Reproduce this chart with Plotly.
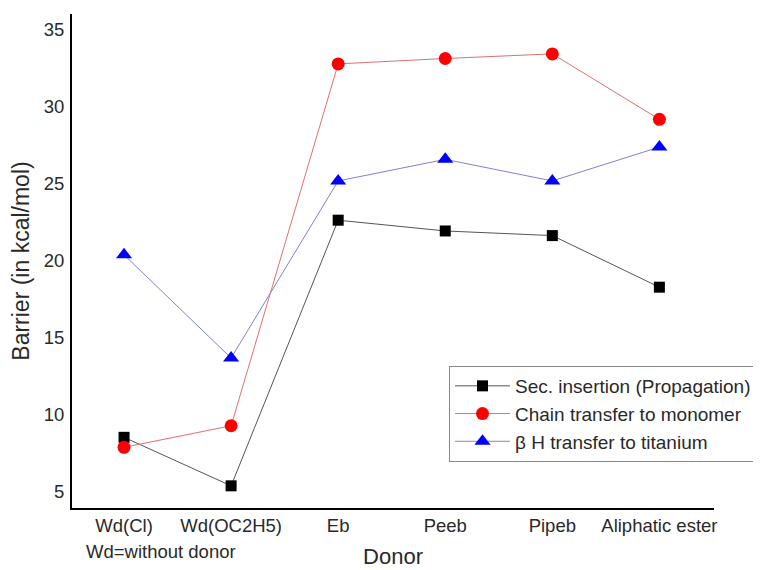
import plotly.graph_objects as go

categories = ["Wd(Cl)", "Wd(OC2H5)", "Eb", "Peeb", "Pipeb", "Aliphatic ester"]
sec_insertion = [8.55, 5.4, 22.65, 21.95, 21.65, 18.3]
chain_transfer = [7.9, 9.3, 32.8, 33.15, 33.45, 29.2]
beta_h_transfer = [20.4, 13.7, 25.2, 26.6, 25.2, 27.4]
y_ticks = [5, 10, 15, 20, 25, 30, 35]

xs = list(range(len(categories)))
font_family = "Liberation Sans, Arial, sans-serif"
text_color = "#2a2a2a"

fig = go.Figure()
fig.add_trace(go.Scatter(
    x=xs, y=sec_insertion, mode="lines+markers", name="Sec. insertion (Propagation)",
    line=dict(color="#555555", width=1),
    marker=dict(symbol="square", size=11, color="black"),
))
fig.add_trace(go.Scatter(
    x=xs, y=chain_transfer, mode="lines+markers", name="Chain transfer to monomer",
    line=dict(color="#e07070", width=1),
    marker=dict(symbol="circle", size=13, color="#ff0000"),
))
fig.add_trace(go.Scatter(
    x=xs, y=beta_h_transfer, mode="lines+markers", name="β H transfer to titanium",
    line=dict(color="#8080d8", width=1),
    marker=dict(symbol="triangle-up", size=14, color="#0000ff"),
))

# page body has an 8px default margin, compensated here
fig.update_layout(
    width=761, height=570,
    margin=dict(l=64, r=55, t=6, b=70),
    paper_bgcolor="white", plot_bgcolor="white",
    font=dict(family=font_family, size=18, color=text_color),
    showlegend=True,
    legend=dict(
        x=(449 - 72) / 642, y=(508 - 366) / 494, xanchor="left", yanchor="top",
        bordercolor="#888888", borderwidth=1, bgcolor="white",
        font=dict(size=19, color=text_color),
        itemwidth=55, tracegroupgap=0,
    ),
    xaxis=dict(
        tickmode="array", tickvals=xs, ticktext=categories,
        range=[-0.486, 5.51], showgrid=False, zeroline=False,
        showline=True, linecolor="black", linewidth=2, ticks="",
        tickfont=dict(size=18.5, color=text_color),
        title=dict(text="Donor", font=dict(size=22, color=text_color), standoff=13),
        automargin=False,
    ),
    yaxis=dict(
        tickmode="array", tickvals=y_ticks,
        range=[3.96, 36.04], showgrid=False, zeroline=False,
        showline=True, linecolor="black", linewidth=2, ticks="",
        tickfont=dict(size=18.5, color=text_color),
        ticklabelstandoff=2,
        title=dict(text="Barrier (in kcal/mol)", font=dict(size=23, color=text_color), standoff=12),
        automargin=False,
    ),
    annotations=[dict(
        text="Wd=without donor", x=(161 - 72) / 642, xref="paper", y=0, yref="paper",
        yshift=-43, xanchor="center", yanchor="middle", showarrow=False,
        font=dict(size=18.5, color=text_color),
    )],
)

fig.write_html("out.html")
